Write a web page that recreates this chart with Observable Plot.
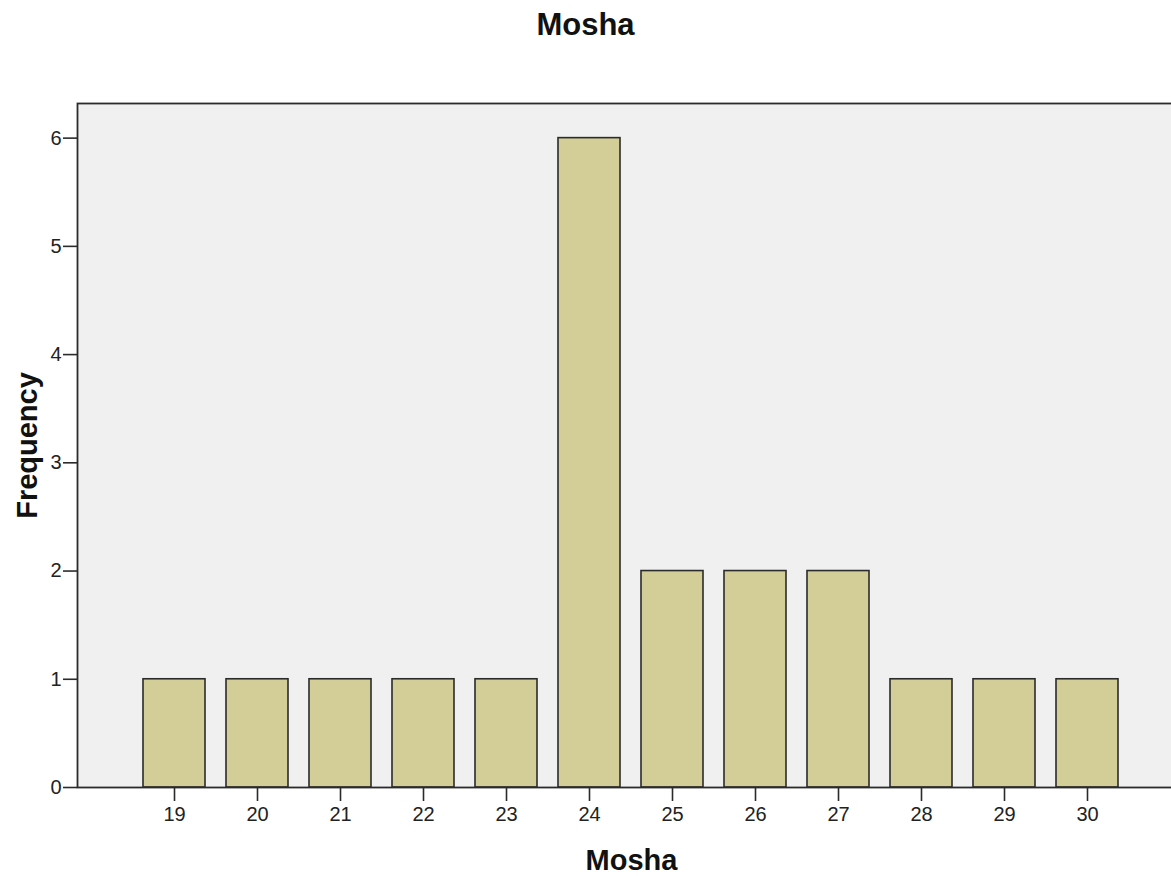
<!DOCTYPE html>
<html>
<head>
<meta charset="utf-8">
<script src="https://cdn.jsdelivr.net/npm/d3@7"></script>
<script src="https://cdn.jsdelivr.net/npm/@observablehq/plot@0.6"></script>
<style>
  html, body { margin: 0; padding: 0; background: white; }
  #wrap { width: 1171px; height: 876px; overflow: hidden; position: relative; font-family: "Liberation Sans", Arial, sans-serif; }
  #title { margin: 0; padding-top: 7px; height: 53px; line-height: 1.15; font-size: 31px; font-weight: bold; text-align: center; color: #111; }
  #chart svg { max-width: none !important; }
</style>
</head>
<body>
<div id="wrap">
  <div id="title">Mosha</div>
  <div id="chart"></div>
</div>
<script>
const ages = [19, 20, 21, 22, 23, 24, 25, 26, 27, 28, 29, 30];
const frequencies = [1, 1, 1, 1, 1, 6, 2, 2, 2, 1, 1, 1];
const yTicks = [0, 1, 2, 3, 4, 5, 6];
const xLabel = "Mosha";
const yLabel = "Frequency";

const data = ages.map((a, i) => ({age: a, freq: frequencies[i]}));
const ink = "#2b2b2b";

const chart = Plot.plot({
  width: 1190,
  height: 816,
  marginLeft: 77,
  marginRight: 5,
  marginTop: 43,
  marginBottom: 89,
  style: {fontFamily: "Liberation Sans, Arial, sans-serif", fontSize: "20px", background: "white", color: "#222", overflow: "visible", maxWidth: "none"},
  x: {type: "band", domain: ages, paddingInner: 0.25, paddingOuter: 0.79, align: 0.5},
  y: {domain: [0, 6.32]},
  marks: [
    Plot.frame({fill: "#f0f0f0", stroke: null}),
    Plot.barY(data, {x: "age", y: "freq", fill: "#d3ce97", stroke: ink, strokeWidth: 1.6}),
    Plot.frame({stroke: ink, strokeWidth: 1.8}),
    Plot.axisY({ticks: yTicks, tickSize: 14, tickPadding: 2, stroke: ink, strokeWidth: 1.6, fill: "#222", label: null, tickFormat: d => String(d)}),
    Plot.axisX({tickSize: 14, tickPadding: 5, stroke: ink, strokeWidth: 1.6, fill: "#222", label: null}),
    Plot.text([yLabel], {frameAnchor: "left", textAnchor: "middle", rotate: -90, dx: -50, fontSize: 29, fontWeight: "bold", fill: "#111"}),
    Plot.text([xLabel], {frameAnchor: "bottom", textAnchor: "middle", dy: 82, fontSize: 29, fontWeight: "bold", fill: "#111"})
  ]
});
document.getElementById("chart").appendChild(chart);
</script>
</body>
</html>
